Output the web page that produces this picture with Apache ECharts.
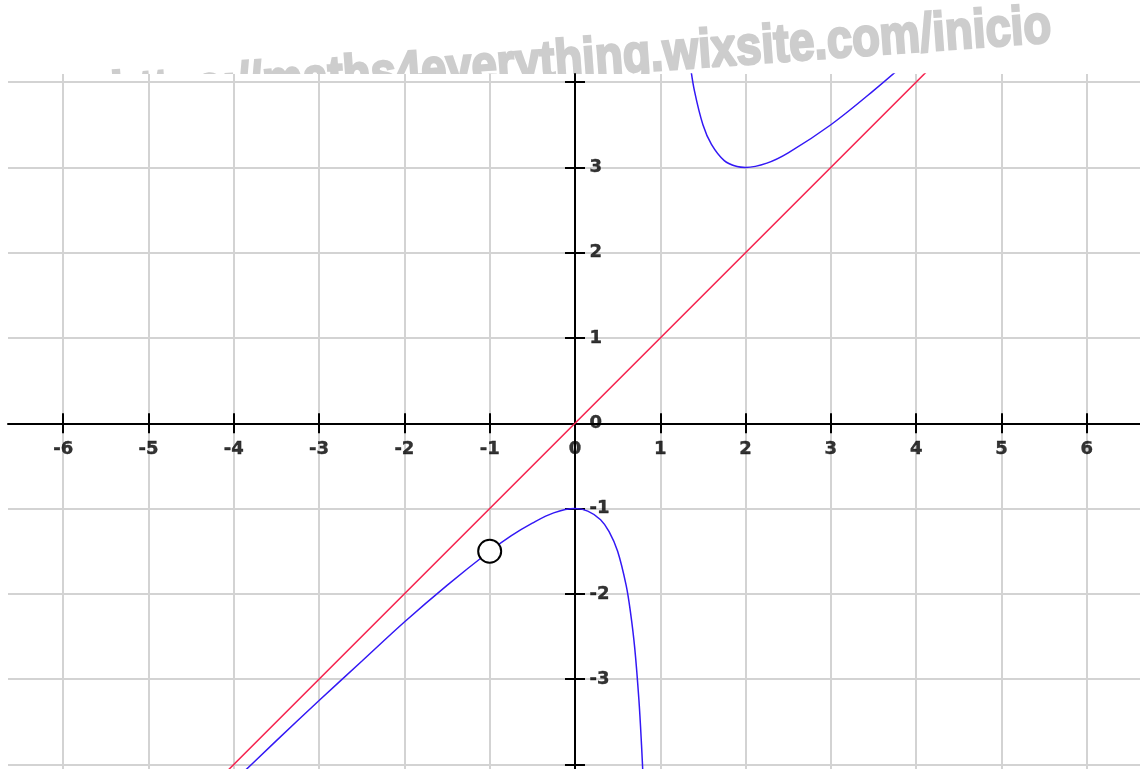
<!DOCTYPE html>
<html>
<head>
<meta charset="utf-8">
<script src="https://cdn.jsdelivr.net/npm/echarts@6/dist/echarts.min.js"></script>
<style>
  html, body { margin: 0; padding: 0; background: #fff; }
  #chart { width: 1140px; height: 769px; }
</style>
</head>
<body>
<div id="chart"></div>
<script>
// ticks / labels
const xTicks = [-6, -5, -4, -3, -2, -1, 0, 1, 2, 3, 4, 5, 6];
const yTicks = [-4, -3, -2, -1, 0, 1, 2, 3, 4];
const yLabels = [-3, -2, -1, 0, 1, 2, 3];

// oblique asymptote y = x
const asymptote = [[-5, -5], [5, 5]];
// curve, branch left of x = 1
const branchLeft = [
  [-4.2, -4.39], [-3.5, -3.72], [-3, -3.25], [-2.5, -2.79], [-2, -2.33],
  [-1.5, -1.9], [-1, -1.5], [-0.75, -1.32], [-0.5, -1.17], [-0.25, -1.05],
  [0, -1], [0.15, -1.03], [0.3, -1.13], [0.4, -1.27], [0.5, -1.5],
  [0.6, -1.9], [0.65, -2.21], [0.7, -2.63], [0.75, -3.25], [0.78, -3.77],
  [0.8, -4.2], [0.82, -4.74]
];
// curve, branch right of x = 1
const branchRight = [
  [1.25, 5.25], [1.3, 4.63], [1.35, 4.21], [1.4, 3.9], [1.5, 3.5],
  [1.6, 3.27], [1.75, 3.08], [1.9, 3.01], [2, 3], [2.25, 3.05],
  [2.5, 3.17], [3, 3.5], [3.5, 3.9], [4, 4.33]
];
// hole (open point)
const hole = [[-1, -1.5]];

const watermark = 'https://maths4everything.wixsite.com/inicio';

// visible window
const X_MIN = -6.647, X_MAX = 6.624;
const Y_MIN = -4.053, Y_MAX = 4.095;
const GRID = { left: 8, right: 0, top: 74, bottom: 0 };

const labelFont = {
  color: '#000', fontFamily: 'DejaVu Sans', fontWeight: 'bold', fontSize: 18,
  textBorderColor: '#000', textBorderWidth: 0.4
};
const tickStyle = { color: '#000', width: 2 };
const gridLine = { show: true, lineStyle: { color: '#d3d3d3', width: 2 } };

// stretch watermark to its width in the picture
const wmFont = 'bold 54px "Liberation Sans"';
const ctx = document.createElement('canvas').getContext('2d');
ctx.font = wmFont;
const wmScale = 942 / ctx.measureText(watermark).width;

// tick labels sit on the axes (axis labels of onZero axes don't show here)
function tickLabels(data, pos, dist) {
  return {
    type: 'scatter', data: data, symbolSize: 1, silent: true, z: 4,
    itemStyle: { color: 'rgba(0,0,0,0)' },
    label: Object.assign({
      show: true, position: pos, distance: dist,
      formatter: p => String(pos === 'bottom' ? p.value[0] : p.value[1])
    }, labelFont)
  };
}

const myChart = echarts.init(document.getElementById('chart'));
myChart.setOption({
  animation: false,
  backgroundColor: '#fff',
  grid: Object.assign({ outerBoundsMode: 'none' }, GRID),
  graphic: [{
    type: 'text',
    z: -10,
    x: 1053, y: 54,
    rotation: 0.072,
    scaleX: wmScale,
    style: {
      text: watermark,
      font: wmFont,
      fill: '#cdcdcd',
      stroke: '#cdcdcd',
      lineWidth: 2.5,
      align: 'right',
      verticalAlign: 'bottom'
    }
  }, {
    // plot area covers the lower part of the watermark
    type: 'rect',
    z: -5,
    shape: { x: 0, y: GRID.top, width: 1140, height: 769 - GRID.top },
    style: { fill: '#fff' }
  }],
  xAxis: [{
    type: 'value', min: X_MIN, max: X_MAX, position: 'bottom',
    axisLine: { onZero: true, lineStyle: tickStyle },
    axisTick: { customValues: xTicks, length: 10, lineStyle: tickStyle },
    axisLabel: { show: false },
    splitLine: gridLine
  }, {
    type: 'value', min: X_MIN, max: X_MAX, position: 'top',
    axisLine: { show: false, onZero: true },
    axisTick: { customValues: xTicks, length: 10, lineStyle: tickStyle },
    axisLabel: { show: false },
    splitLine: { show: false }
  }],
  yAxis: [{
    type: 'value', min: Y_MIN, max: Y_MAX, position: 'left',
    axisLine: { onZero: true, lineStyle: tickStyle },
    axisTick: { customValues: yTicks, length: 10, lineStyle: tickStyle },
    axisLabel: { show: false },
    splitLine: Object.assign({}, gridLine)
  }, {
    type: 'value', min: Y_MIN, max: Y_MAX, position: 'right',
    axisLine: { show: false, onZero: true },
    axisTick: { customValues: yTicks, length: 10, lineStyle: tickStyle },
    axisLabel: { show: false },
    splitLine: { show: false }
  }],
  series: [{
    type: 'line', data: asymptote, showSymbol: false, z: 3,
    lineStyle: { color: '#f5224e', width: 1.5 }
  }, {
    type: 'line', data: branchLeft, showSymbol: false, smooth: 0.35, z: 3,
    lineStyle: { color: '#3318f5', width: 1.5 }
  }, {
    type: 'line', data: branchRight, showSymbol: false, smooth: 0.35, z: 3,
    lineStyle: { color: '#3318f5', width: 1.5 }
  }, {
    type: 'scatter', data: hole, symbol: 'circle', symbolSize: 23, z: 5,
    itemStyle: { color: '#fff', borderColor: '#000', borderWidth: 2, opacity: 1 }
  },
  tickLabels(xTicks.map(v => [v, 0]), 'bottom', 17),
  tickLabels(yLabels.map(v => [0, v]), 'right', 14)
  ]
});
</script>
</body>
</html>
